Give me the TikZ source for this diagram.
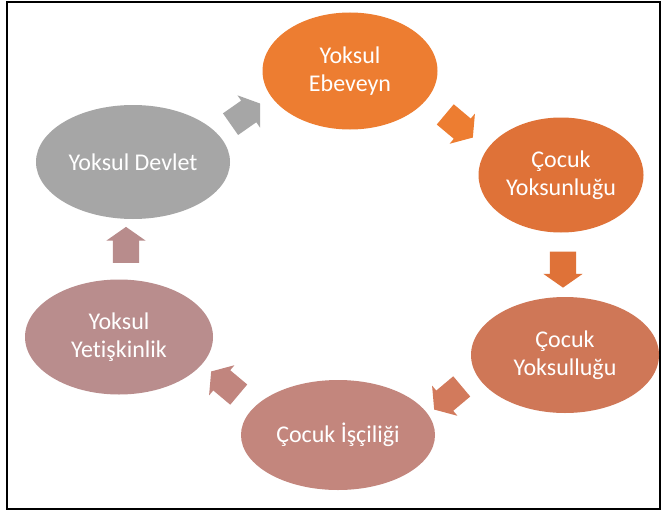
\documentclass[tikz,border=0pt]{standalone}
\usepackage{fontspec}
\setmainfont{Carlito}[Ligatures=NoCommon]
\usetikzlibrary{shapes.geometric,shapes.arrows,calc}
\definecolor{cEbe}{HTML}{ED7D31}
\definecolor{cYsn}{HTML}{DF7238}
\definecolor{cYsl}{HTML}{CF7757}
\definecolor{cIsc}{HTML}{C3867D}
\definecolor{cYet}{HTML}{B98D8D}
\definecolor{cDev}{HTML}{A6A6A6}
\definecolor{aBrn}{HTML}{D27A5C}
\definecolor{aMv1}{HTML}{C1857E}
\definecolor{aMv2}{HTML}{B88C8C}
\begin{document}
\begin{tikzpicture}[x=1pt,y=-1pt,
  ell/.style={ellipse, inner sep=0pt, text=white, align=center,
    font=\fontsize{24}{27.5}\selectfont},
  blockarr/.style={single arrow, inner xsep=0pt, inner ysep=13pt,
    minimum height=36pt, single arrow head extend=6.5pt,
    single arrow tip angle=110, draw=none}]
\useasboundingbox (0,0) rectangle (663,511);
\fill[white] (0,0) rectangle (663,511);
\draw[line width=1.8pt, black] (7,2) rectangle (660,509);

\node[ell, fill=cEbe, minimum width=175pt, minimum height=117pt] (eb) at (350,71) {Yoksul\\Ebeveyn};
\node[ell, fill=cYsn, minimum width=165pt, minimum height=115pt] (yn) at (561,175) {Çocuk\\Yoksunluğu};
\node[ell, fill=cYsl, minimum width=188pt, minimum height=116pt] (yl) at (565,355) {Çocuk\\Yoksulluğu};
\node[ell, fill=cIsc, minimum width=194pt, minimum height=110pt] (is) at (338,435) {Çocuk İşçiliği};
\node[ell, fill=cYet, minimum width=188pt, minimum height=115pt] (ye) at (119,337) {Yoksul\\Yetişkinlik};
\node[ell, fill=cDev, minimum width=194pt, minimum height=114pt] (de) at (133,162) {Yoksul Devlet};

\node[blockarr, fill=cDev, rotate=35] (a1) at ($(de)!0.5!(eb)$) {};
\node[blockarr, fill=cEbe, rotate=-40] (a2) at ($(eb)!0.5!(yn)$) {};
\node[blockarr, fill=cYsn, rotate=-90] (a3) at ($(yn)!0.5!(yl)$) {};
\node[blockarr, fill=aBrn, rotate=-140] (a4) at ($(yl)!0.5!(is)$) {};
\node[blockarr, fill=aMv1, rotate=140] (a5) at ($(is)!0.5!(ye)$) {};
\node[blockarr, fill=aMv2, rotate=90] (a6) at ($(ye)!0.5!(de)$) {};
\end{tikzpicture}
\end{document}
